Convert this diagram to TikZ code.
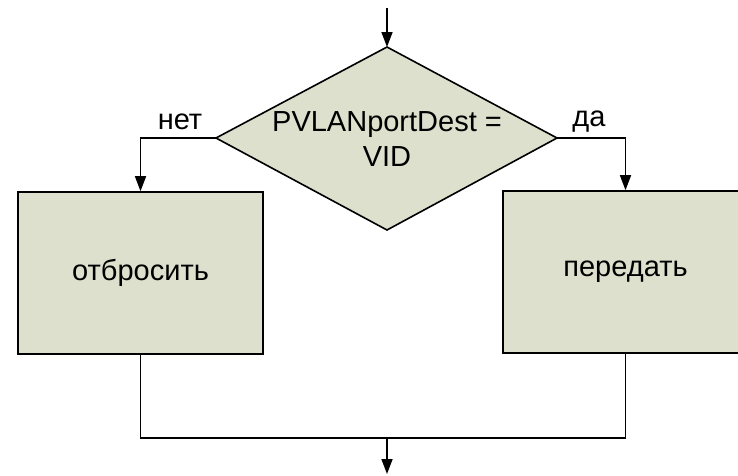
\documentclass[tikz,border=0pt]{standalone}
\usepackage{fontspec}
\setmainfont{Liberation Sans}
\usetikzlibrary{shapes.geometric,arrows.meta}
\definecolor{boxfill}{RGB}{221,224,204}
\tikzset{
  flowline/.style={line width=1.6pt, draw=black},
  flowarrow/.style={flowline, -{Triangle[length=15pt,width=11pt]}},
  labelfont/.style={font=\fontsize{29}{34}\selectfont},
  procbox/.style={draw=black, line width=1.6pt, fill=boxfill, minimum width=245pt, minimum height=162pt, inner sep=0pt, labelfont},
  decision/.style={draw=black, line width=1.6pt, fill=boxfill},
  branchlabel/.style={labelfont, inner sep=0pt},
}
\begin{document}
\begin{tikzpicture}[x=1pt,y=-1pt]
\useasboundingbox (0,0) rectangle (738,475);
% decision diamond
\coordinate (dtop) at (387,47);
\coordinate (dleft) at (216,138);
\coordinate (dright) at (557,138);
\coordinate (dbot) at (387,230);
\draw[decision] (dtop) -- (dright) -- (dbot) -- (dleft) -- cycle;
\node[labelfont, align=center, inner sep=0pt] (cond) at (387,139) {PVLANportDest =\\[1pt]VID};
% action boxes
\node[procbox] (drop) at (140.5,273) {отбросить};
\node[procbox] (pass) at (625.5,272) {передать};
% entry and exit
\coordinate (entry) at (387,8);
\coordinate (join) at (387,438);
\coordinate (exit) at (387,474);
\draw[flowarrow] (entry) -- (dtop);
\draw[flowarrow] (dleft) -| (drop.north);
\draw[flowarrow] (dright) -| (pass.north);
\draw[flowline] (drop.south) |- (join) -| (pass.south);
\draw[flowarrow] (join) -- (exit);
% branch labels
\node[branchlabel] (no) at (180,122) {нет};
\node[branchlabel] (yes) at (589,122) {да};
\end{tikzpicture}
\end{document}
